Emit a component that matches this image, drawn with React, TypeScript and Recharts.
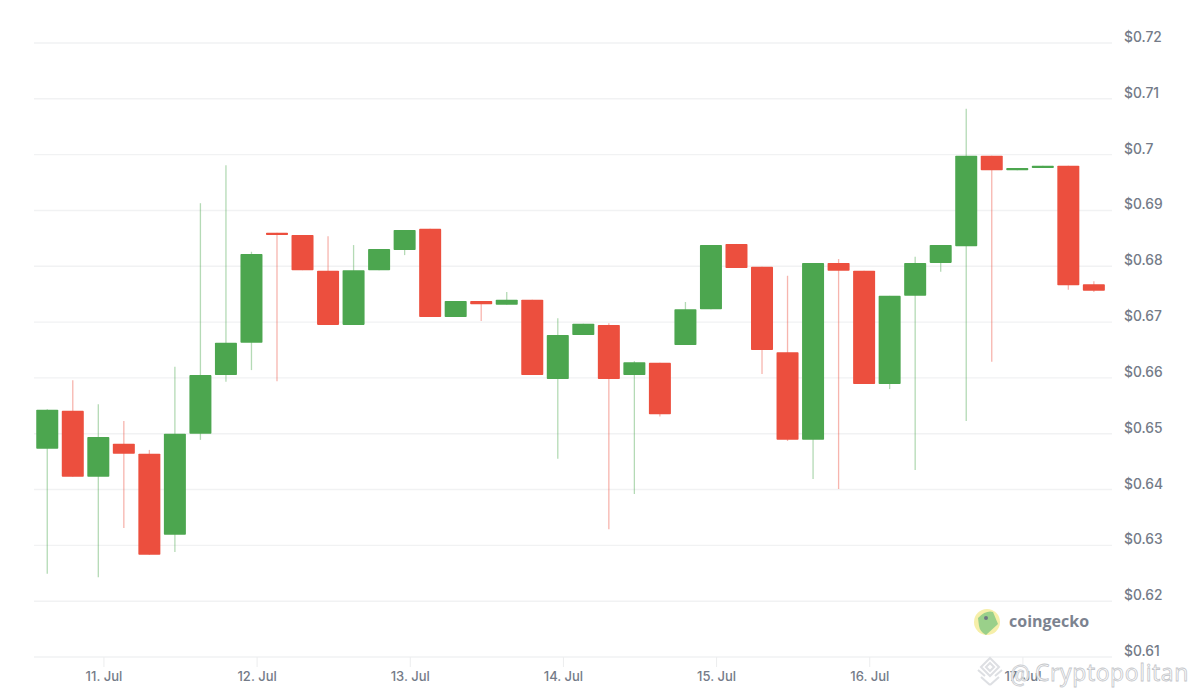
import React from "react";
import { ComposedChart, Bar, XAxis, YAxis, CartesianGrid } from "recharts";

const slots = [0,1,2,3,4,5,6,7,8,9,10,11,12,13,14,15,16,17,18,19,20,21,22,23,24,25,26,27,28,29,30,31,32,33,34,35,36,37,38,39,40,41];
const opens = [.6473,.6541,.6423,.6482,.6464,.6319,.65,.6605,.6663,.686,.6856,.6792,.6695,.6793,.6829,.6867,.6709,.6738,.6731,.674,.6598,.6677,.6695,.6605,.6627,.6659,.6723,.684,.6799,.6646,.6489,.6806,.6792,.6589,.6747,.6806,.6836,.6998,.6972,.6976,.698,.6768];
const closes = [.6543,.6423,.6494,.6464,.6283,.65,.6605,.6663,.6822,.6856,.6793,.6695,.6793,.6831,.6865,.6709,.6738,.6732,.674,.6605,.6677,.6697,.6598,.6628,.6535,.6723,.6838,.6797,.665,.6489,.6806,.6792,.6589,.6747,.6806,.6838,.6998,.6972,.6976,.698,.6766,.6756];
const highs = [.6544,.6596,.6553,.6523,.6471,.662,.6913,.6981,.6826,.686,.6856,.6854,.6838,.6831,.6865,.6867,.6738,.6738,.6754,.674,.6707,.6697,.6698,.663,.6627,.6736,.6838,.684,.6799,.6783,.6806,.6813,.6792,.6747,.6817,.6838,.7082,.6998,.6976,.698,.698,.6773];
const lows = [.6249,.6423,.6243,.6331,.6283,.6288,.6489,.6593,.6614,.6594,.6793,.6695,.6695,.6793,.682,.6709,.6709,.6702,.6731,.6605,.6455,.6677,.6329,.6392,.6531,.6659,.6723,.6797,.6607,.6487,.6419,.6401,.6589,.658,.6435,.679,.6523,.6629,.6972,.6976,.6758,.6754];

const priceTicks = [0.61,0.62,0.63,0.64,0.65,0.66,0.67,0.68,0.69,0.7,0.71,0.72];
const priceLabels = ["$0.61","$0.62","$0.63","$0.64","$0.65","$0.66","$0.67","$0.68","$0.69","$0.7","$0.71","$0.72"];
const dayTicks = [2.23,8.23,14.23,20.23,26.23,32.23,38.23];
const dayLabels = ["11. Jul","12. Jul","13. Jul","14. Jul","15. Jul","16. Jul","17. Jul"];

const GREEN = "#4CA64F";
const RED = "#EC4F3E";
const FONT = "Inter, 'Noto Sans', sans-serif";

const rows = slots.map((slot, i) => ({
  slot,
  open: opens[i],
  close: closes[i],
  high: highs[i],
  low: lows[i],
  range: [lows[i], highs[i]],
}));

function Candle(props: any) {
  const { x, y, width, height, payload } = props;
  const { open, close, high, low } = payload;
  const up = close >= open;
  const perUnit = height / (high - low);
  const top = y + (high - Math.max(open, close)) * perUnit;
  const h = Math.max(Math.abs(close - open) * perUnit, 1.6);
  const cx = x + width / 2;
  const color = up ? GREEN : RED;
  return (
    <g>
      <line x1={cx} x2={cx} y1={y} y2={y + height} stroke={color} strokeOpacity={0.42} strokeWidth={1.3} />
      <rect x={x} y={top} width={width} height={h} fill={color} rx={0.8} />
    </g>
  );
}

function PriceTick(props: any) {
  const { x, y, payload } = props;
  const i = priceTicks.indexOf(payload.value);
  return (
    <text x={x + 4} y={y - 1} fill="#747B88" fontSize={13.8} fontFamily={FONT} fontWeight={500}>
      {priceLabels[i]}
    </text>
  );
}

function DayTick(props: any) {
  const { x, y, payload } = props;
  const i = dayTicks.indexOf(payload.value);
  return (
    <text x={x} y={y + 12} fill="#747B88" fontSize={13} fontFamily={FONT} fontWeight={500} textAnchor="middle">
      {dayLabels[i]}
    </text>
  );
}

export default function App() {
  return (
    <div style={{ position: "fixed", left: 0, top: 0, width: 1200, height: 697, background: "#fff", overflow: "hidden" }}>
      <ComposedChart width={1200} height={697} data={rows} margin={{ top: 43, right: 0, left: 34, bottom: 0 }}>
        <CartesianGrid horizontal vertical={false} stroke="#F1F2F3" strokeWidth={1.4} />
        <XAxis
          dataKey="slot"
          type="number"
          domain={[-0.51, 41.72]}
          ticks={dayTicks}
          height={40}
          axisLine={false}
          tickLine={{ stroke: "#ECEDEE" }}
          tickSize={10}
          tick={<DayTick />}
          interval={0}
          allowDataOverflow
        />
        <YAxis
          orientation="right"
          type="number"
          domain={[0.61, 0.72]}
          ticks={priceTicks}
          width={88}
          axisLine={false}
          tickLine={false}
          tick={<PriceTick />}
          interval={0}
        />
        <Bar dataKey="range" barSize={22} shape={<Candle />} isAnimationActive={false} />
      </ComposedChart>
      <svg width={1200} height={697} style={{ position: "absolute", left: 0, top: 0, pointerEvents: "none" }}>
        <circle cx={987} cy={622} r={13} fill="#F6EFA9" />
        <path d="M978 618 Q986 610 993 612 L998 624 L986 635 Q980 632 979 626 Z" fill="#9AD08A" />
        <circle cx={986} cy={618} r={2} fill="#6F7683" />
        <text x={1009} y={627} fill="#7C8390" fontSize={16} fontWeight={700} fontFamily="'Open Sans', Inter, sans-serif">coingecko</text>
        <g fill="none" stroke="#DADCE0" strokeWidth={2} opacity={0.9}>
          <path d="M990 658 L999 667 L990 676 L981 667 Z" />
          <path d="M990 663 L994 667 L990 671 L986 667 Z" />
          <path d="M978 670 L985 676 M1002 670 L995 676 M990 685 L981 677 M990 685 L999 677" />
        </g>
        <text x={1010} y={681} fill="#FFFFFF" stroke="#C9CBCF" strokeWidth={0.8} fontSize={22} fontFamily="Roboto, Inter, sans-serif">@</text>
        <text x={1035} y={681} fill="#FFFFFF" stroke="#C4C6CA" strokeWidth={0.8} fontSize={23} letterSpacing={0.6} fontFamily="'Open Sans', Inter, sans-serif">Cryptopolitan</text>
      </svg>
    </div>
  );
}
